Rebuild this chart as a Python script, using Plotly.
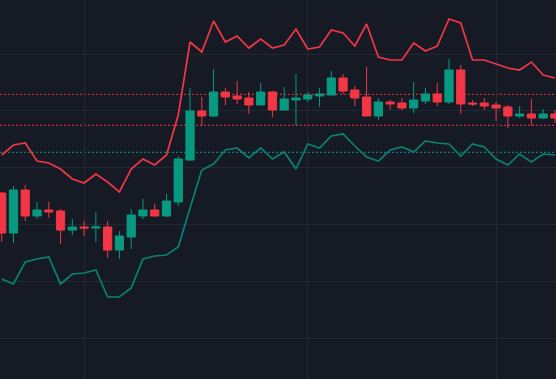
import plotly.graph_objects as go

# candle index (one per bar)
idx = list(range(48))

opens = [207, 167, 210, 184, 190, 189, 170, 173, 172, 173, 150, 163, 184, 190, 184, 198,
         240, 289, 284, 308, 304, 302, 295, 308, 290, 300, 301, 304, 305, 322, 310, 303,
         284, 298, 297, 292, 299, 306, 298, 330, 297, 297, 295, 293, 284, 286, 282, 286]
highs = [208, 214, 215, 198, 198, 191, 181, 179, 188, 179, 169, 191, 201, 196, 206, 244,
         312, 303, 331, 312, 319, 308, 317, 309, 313, 326, 308, 312, 329, 326, 314, 333,
         302, 300, 302, 318, 312, 317, 341, 335, 300, 302, 298, 295, 294, 301, 291, 290]
lows = [158, 157, 179, 181, 182, 156, 165, 164, 158, 142, 141, 151, 181, 183, 183, 194,
        239, 274, 283, 295, 296, 286, 295, 283, 290, 275, 298, 293, 305, 306, 294, 284,
        280, 290, 290, 287, 296, 294, 296, 286, 294, 290, 279, 272, 282, 274, 281, 277]
closes = [167, 210, 184, 190, 188, 170, 173, 172, 173, 150, 164, 185, 190, 184, 199, 241,
          289, 284, 308, 303, 301, 295, 308, 290, 301, 302, 305, 306, 322, 309, 302, 284,
          298, 296, 292, 300, 306, 298, 330, 296, 296, 294, 292, 284, 286, 282, 286, 282]

upper_band = [245, 255, 257, 239, 237, 231, 221, 217, 226, 218, 208, 231, 241, 235, 245, 285,
              358, 348, 379, 358, 364, 352, 361, 352, 355, 371, 351, 353, 370, 367, 354, 376,
              343, 340, 340, 357, 349, 354, 381, 377, 340, 340, 336, 332, 330, 338, 325, 322]
lower_band = [121, 116, 138, 141, 143, 116, 126, 127, 130, 103, 103, 112, 141, 144, 145, 153,
              192, 230, 236, 250, 252, 242, 252, 241, 248, 231, 256, 252, 264, 266, 254, 243,
              239, 250, 253, 248, 259, 257, 256, 244, 256, 253, 241, 235, 246, 238, 246, 245]

# horizontal reference levels
resistance_levels = [305.7, 274.7]
support_levels = [247.7]

# vertical grid positions (candle index)
time_grid = [7, 26, 42]

UP = "#089981"
DOWN = "#F23645"
BG = "#161A25"
GRID = "#242833"

fig = go.Figure()

fig.add_trace(go.Scatter(x=idx, y=upper_band, mode="lines",
                         line=dict(color=DOWN, width=1.7), hoverinfo="skip"))
fig.add_trace(go.Scatter(x=idx, y=lower_band, mode="lines",
                         line=dict(color="#0A8272", width=1.7), hoverinfo="skip"))

fig.add_trace(go.Candlestick(
    x=idx, open=opens, high=highs, low=lows, close=closes,
    increasing=dict(line=dict(color=UP, width=1), fillcolor=UP),
    decreasing=dict(line=dict(color=DOWN, width=1), fillcolor=DOWN),
    whiskerwidth=0,
))

for lv in resistance_levels:
    fig.add_hline(y=lv, line=dict(color=DOWN, width=1, dash="2px,2px"), layer="below")
for lv in support_levels:
    fig.add_hline(y=lv, line=dict(color=UP, width=1, dash="2px,2px"), layer="below")

fig.update_layout(
    width=556, height=379,
    margin=dict(l=0, r=0, t=0, b=0),
    paper_bgcolor=BG, plot_bgcolor=BG,
    showlegend=False,
    boxgap=0.3, boxgroupgap=0,
)
fig.update_xaxes(range=[-0.144, 47.09], tickvals=time_grid, showticklabels=False,
                 showgrid=True, gridcolor=GRID, gridwidth=1, zeroline=False,
                 rangeslider_visible=False, showline=False)
fig.update_yaxes(range=[21, 400], tick0=62, dtick=56.8, showticklabels=False,
                 showgrid=True, gridcolor=GRID, gridwidth=1, zeroline=False, showline=False)

fig.write_html("out.html", config={"displayModeBar": False},
               post_script="document.body.style.margin='0';document.body.style.overflow='hidden';")
